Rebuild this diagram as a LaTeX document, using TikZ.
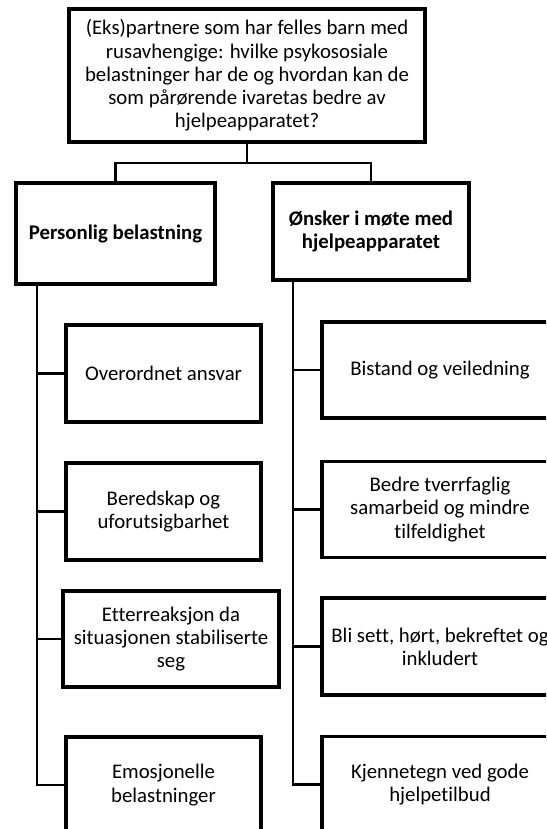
\documentclass[tikz,border=0pt]{standalone}
\usepackage{fontspec}
\setmainfont{Carlito}[Ligatures=NoCommon]
\begin{document}
\begin{tikzpicture}[x=1pt,y=-1pt,
  box/.style={draw=black, line width=3.2pt, fill=white, inner sep=0pt, align=center,
    font=\fontsize{20.8}{23.2}\selectfont},
  boldbox/.style={box, font=\fontsize{20.8}{23.2}\selectfont\bfseries},
  conn/.style={draw=black, line width=2.2pt}]
\useasboundingbox (0,0) rectangle (546,829);
\clip (0,0) rectangle (546,829);
% top
\node[box, line width=3.6pt, minimum width=356pt, minimum height=133pt] (top) at (247,75.5)
  {(Eks)partnere som har felles barn med\\ rusavhengige: hvilke psykososiale\\ belastninger har de og hvordan kan de\\ som pårørende ivaretas bedre av\\ hjelpeapparatet?};
% level 2
\node[boldbox, minimum width=199pt, minimum height=101pt] (L) at (115.5,233.5) {Personlig belastning};
\node[boldbox, minimum width=196pt, minimum height=97pt] (R) at (371,231.5) {Ønsker i møte med\\ hjelpeapparatet};
% left children
\node[box, minimum width=195pt, minimum height=97pt] (l1) at (163.5,373.5) {Overordnet ansvar};
\node[box, minimum width=195pt, minimum height=97pt] (l2) at (163.5,511.5) {Beredskap og\\ uforutsigbarhet};
\node[box, minimum width=216pt, minimum height=96pt] (l3) at (171,639) {Etterreaksjon da\\ situasjonen stabiliserte\\ seg};
\node[box, minimum width=195pt, minimum height=96pt] (l4) at (163.5,785) {Emosjonelle\\ belastninger};
% right children
\node[box, minimum width=236pt, minimum height=96pt] (r1) at (440,370) {Bistand og veiledning};
\node[box, minimum width=236pt, minimum height=96pt] (r2) at (440,509.5) {Bedre tverrfaglig\\ samarbeid og mindre\\ tilfeldighet};
\node[box, minimum width=236pt, minimum height=97pt] (r3) at (440,646.5) {Bli sett, hørt, bekreftet og\\ inkludert};
\node[box, minimum width=236pt, minimum height=96pt] (r4) at (440,784.5) {Kjennetegn ved gode\\ hjelpetilbud};
% connectors
\coordinate (mid) at (247,163);
\coordinate (lsp) at (37,284);
\coordinate (rsp) at (293,280);
\draw[conn] (top.south) -- (mid);
\draw[conn] (mid) -| (L.north);
\draw[conn] (mid) -| (R.north);
\draw[conn] (lsp) |- (l1.west);
\draw[conn] (lsp) |- (l2.west);
\draw[conn] (lsp) |- (l3.west);
\draw[conn] (lsp) |- (l4.west);
\draw[conn] (rsp) |- (r1.west);
\draw[conn] (rsp) |- (r2.west);
\draw[conn] (rsp) |- (r3.west);
\draw[conn] (rsp) |- (r4.west);
\end{tikzpicture}
\end{document}
